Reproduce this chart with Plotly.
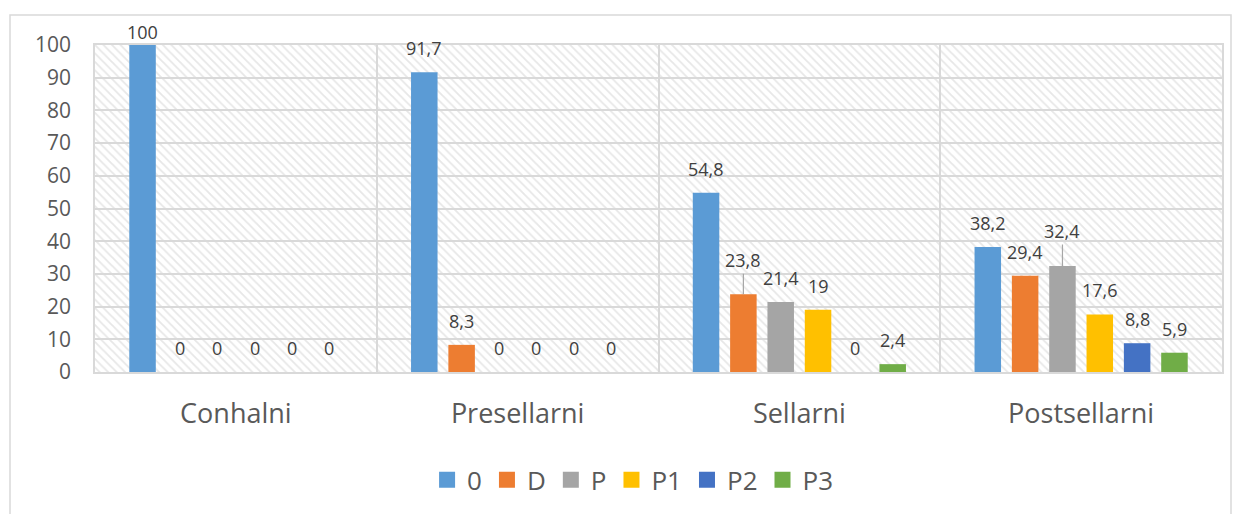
import plotly.graph_objects as go

categories = ["Conhalni", "Presellarni", "Sellarni", "Postsellarni"]
series_names = ["0", "D", "P", "P1", "P2", "P3"]
values_0 = [100, 91.7, 54.8, 38.2]
values_D = [0, 8.3, 23.8, 29.4]
values_P = [0, 0, 21.4, 32.4]
values_P1 = [0, 0, 19, 17.6]
values_P2 = [0, 0, 0, 8.8]
values_P3 = [0, 0, 2.4, 5.9]
series_values = [values_0, values_D, values_P, values_P1, values_P2, values_P3]
colors = ["#5B9BD5", "#ED7D31", "#A5A5A5", "#FFC000", "#4472C4", "#70AD47"]
y_ticks = [0, 10, 20, 30, 40, 50, 60, 70, 80, 90, 100]

FONT = "Open Sans"
BARGAP = 0.205
GROUPGAP = 0.29
n_series = len(series_names)
slot = (1 - BARGAP) / n_series

# label style overrides (series index, category index) -> (shift px, leader line)
label_style = {(0, 0): (13, False), (1, 2): (34, True), (2, 3): (35, True)}

fig = go.Figure()

# hatched plot-area background on its own (hidden) subplot, drawn underneath
fig.add_trace(go.Bar(
    x=[0.5], y=[1], width=[1], xaxis="x", yaxis="y",
    marker=dict(color="white", line=dict(width=0),
                pattern=dict(shape="\\", fgcolor="#cfcfcf", bgcolor="white",
                             size=6, solidity=0.3)),
    showlegend=False, hoverinfo="skip",
))

for i, (name, vals, col) in enumerate(zip(series_names, series_values, colors)):
    fig.add_trace(go.Bar(
        x=categories, y=vals, name=name, xaxis="x2", yaxis="y2",
        marker=dict(color=col, line=dict(width=0)),
        showlegend=False, legendgroup=name,
    ))
    fig.add_trace(go.Scatter(
        x=[None], y=[None], mode="markers", name=name, legendgroup=name,
        xaxis="x2", yaxis="y2",
        marker=dict(symbol="square", size=18, color=col),
    ))

def fmt(v):
    return f"{v:g}".replace(".", ",")

annotations = []
for i, vals in enumerate(series_values):
    for j, v in enumerate(vals):
        shift, leader = label_style.get((i, j), (24, False))
        xpos = j + (i - (n_series - 1) / 2) * slot
        a = dict(x=xpos, y=v, xref="x2", yref="y2", text=fmt(v),
                 font=dict(family=FONT, size=18, color="#404040"))
        if leader:
            a.update(showarrow=True, arrowhead=0, ax=0, ay=-shift,
                     arrowcolor="#a6a6a6", arrowwidth=1.2, standoff=0)
        else:
            a.update(showarrow=False, yshift=shift)
        annotations.append(a)

fig.update_layout(
    width=1232, height=506,
    margin=dict(l=87, r=18, t=37, b=141),
    paper_bgcolor="white", plot_bgcolor="rgba(0,0,0,0)",
    barmode="group", bargap=BARGAP, bargroupgap=GROUPGAP,
    font=dict(family=FONT, color="#595959"),
    xaxis=dict(domain=[0, 1], range=[0, 1], visible=False, fixedrange=True),
    yaxis=dict(domain=[0, 1], range=[0, 1], visible=False, fixedrange=True),
    xaxis2=dict(domain=[0, 1], anchor="y2", type="category",
                tickson="boundaries", showgrid=True, gridcolor="#d9d9d9",
                gridwidth=1.5, showline=True, linecolor="#d9d9d9", linewidth=1.5,
                mirror=True, ticks="", tickfont=dict(size=27, color="#595959"),
                ticklabelstandoff=17),
    yaxis2=dict(domain=[0, 1], anchor="x2", range=[0, 100], tickvals=y_ticks,
                showgrid=True, gridcolor="#d9d9d9", gridwidth=1.5,
                showline=True, linecolor="#d9d9d9", linewidth=1.5, mirror=True,
                zeroline=False, ticks="", tickfont=dict(size=21, color="#595959"),
                ticklabelstandoff=18),
    legend=dict(orientation="h", x=0.477, xanchor="center", y=-0.326,
                yanchor="middle", font=dict(size=26, color="#595959"),
                itemclick=False, itemdoubleclick=False),
    annotations=annotations,
    shapes=[dict(type="rect", xref="paper", yref="paper",
                 x0=(10 - 95) / 1127, x1=(1231 - 95) / 1127,
                 y0=(373 - 530) / 328, y1=(373 - 15) / 328,
                 line=dict(color="#d9d9d9", width=1.5), fillcolor="rgba(0,0,0,0)",
                 layer="below")],
)

fig.write_html("out.html")
